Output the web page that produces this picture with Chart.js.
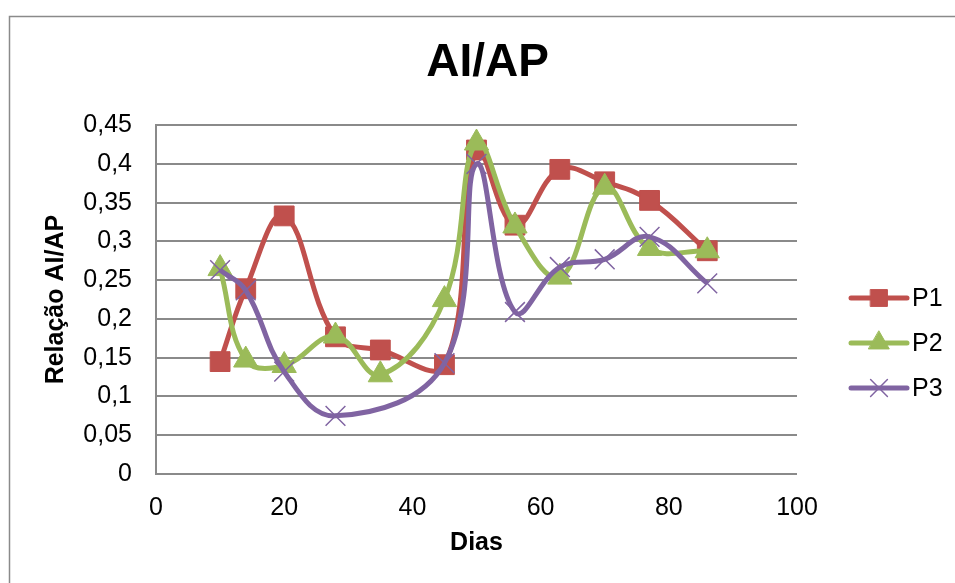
<!DOCTYPE html>
<html>
<head>
<meta charset="utf-8">
<script src="https://cdn.jsdelivr.net/npm/chart.js@4"></script>
<style>
  html, body { margin: 0; padding: 0; background: #fff; }
  #wrap { width: 955px; height: 583px; }
</style>
</head>
<body>
<div id="wrap"><canvas id="ai-ap-chart"></canvas></div>
<script>
// values
const days = [10, 14, 20, 28, 35, 45, 50, 56, 63, 70, 77, 86]
const p1 = [0.145, 0.239, 0.333, 0.177, 0.160, 0.141, 0.418, 0.321, 0.393, 0.377, 0.353, 0.288]
const p2 = [0.265, 0.147, 0.140, 0.178, 0.128, 0.225, 0.427, 0.320, 0.254, 0.370, 0.291, 0.288]
const p3Days = [10, 14, 20, 28, 45, 50, 56, 63, 70, 77, 86]
const p3 = [0.263, 0.237, 0.132, 0.075, 0.143, 0.400, 0.209, 0.267, 0.277, 0.306, 0.246]

const xTicks = [0, 20, 40, 60, 80, 100]
const yTicks = [0, 0.05, 0.1, 0.15, 0.2, 0.25, 0.3, 0.35, 0.4, 0.45]

const FONT = "'Liberation Sans', Arial, sans-serif"
const GRID = '#8a8a8a'

function toPoints(xs, ys) {
    return ys.map((y, i) => ({ x: xs[i], y: y }))
}

// outer frame of the chart
const framePlugin = {
    id: 'frame',
    beforeDraw(chart) {
        const ctx = chart.ctx
        ctx.save()
        ctx.strokeStyle = GRID
        ctx.lineWidth = 1.5
        ctx.strokeRect(9.5, 16.5, 2000, 2000)
        ctx.restore()
    }
}

// excel-like legend: line with the marker on it
const legendPlugin = {
    id: 'sideLegend',
    afterDraw(chart) {
        const ctx = chart.ctx
        const area = chart.chartArea
        const x0 = area.right + 54
        const x1 = area.right + 110
        chart.data.datasets.forEach((ds, i) => {
            const y = 298 + i * 45
            ctx.save()
            ctx.strokeStyle = ds.borderColor
            ctx.lineWidth = 5
            ctx.lineCap = 'round'
            ctx.beginPath()
            ctx.moveTo(x0, y)
            ctx.lineTo(x1, y)
            ctx.stroke()
            ctx.fillStyle = ds.pointBackgroundColor
            ctx.strokeStyle = ds.pointBorderColor
            ctx.lineWidth = ds.pointBorderWidth
            Chart.helpers.drawPoint(ctx, {
                pointStyle: ds.pointStyle,
                radius: ds.pointRadius * 0.85,
                rotation: 0,
                borderWidth: ds.pointBorderWidth
            }, (x0 + x1) / 2, y)
            ctx.fillStyle = '#000'
            ctx.font = '25px ' + FONT
            ctx.textBaseline = 'middle'
            ctx.textAlign = 'left'
            ctx.fillText(ds.label, x1 + 5, y + 1)
            ctx.restore()
        })
    }
}

document.addEventListener('DOMContentLoaded', function () {
    const ctx = document.getElementById('ai-ap-chart').getContext('2d')
    const chart = new Chart(ctx, {
        type: 'line',
        data: {
            datasets: [{
                label: 'P1',
                data: toPoints(days, p1),
                borderColor: '#c0504d',
                pointBackgroundColor: '#c0504d',
                pointBorderColor: '#c0504d',
                pointStyle: 'rect',
                pointRadius: 14,
                pointBorderWidth: 1,
                borderWidth: 5,
                order: 3
            }, {
                label: 'P2',
                data: toPoints(days, p2),
                borderColor: '#9bbb59',
                pointBackgroundColor: '#9bbb59',
                pointBorderColor: '#9bbb59',
                pointStyle: 'triangle',
                pointRadius: 14,
                pointBorderWidth: 1,
                borderWidth: 5,
                order: 2
            }, {
                label: 'P3',
                data: toPoints(p3Days, p3),
                borderColor: '#8064a2',
                pointBackgroundColor: '#8064a2',
                pointBorderColor: '#8064a2',
                pointStyle: 'crossRot',
                pointRadius: 14,
                pointBorderWidth: 1.5,
                borderWidth: 5,
                order: 1
            }]
        },
        options: {
            responsive: true,
            maintainAspectRatio: false,
            animation: false,
            layout: { padding: { left: 20, right: 0, top: 0, bottom: 0 } },
            elements: {
                line: { tension: 0.4, fill: false, capBezierPoints: true },
                point: { hoverRadius: 14 }
            },
            plugins: {
                legend: { display: false },
                tooltip: { enabled: false },
                title: {
                    display: true,
                    text: 'AI/AP',
                    color: '#000',
                    font: { family: FONT, size: 46, weight: 'bold', lineHeight: 1.2 },
                    padding: { top: 36, bottom: 34 }
                }
            },
            scales: {
                x: {
                    type: 'linear',
                    min: 0,
                    max: 100,
                    afterBuildTicks: s => { s.ticks = xTicks.map(v => ({ value: v })) },
                    afterFit: s => { s.height = 109 },
                    grid: { display: false, drawTicks: false },
                    border: { display: false },
                    ticks: {
                        color: '#000',
                        padding: 19,
                        font: { family: FONT, size: 25 },
                        maxRotation: 0
                    },
                    title: {
                        display: true,
                        text: 'Dias',
                        color: '#000',
                        font: { family: FONT, size: 25, weight: 'bold', lineHeight: 1.2 },
                        padding: { top: 0, bottom: 25 }
                    }
                },
                y: {
                    type: 'linear',
                    min: 0,
                    max: 0.45,
                    afterBuildTicks: s => { s.ticks = yTicks.map(v => ({ value: v })) },
                    afterFit: s => { s.width = 136 },
                    grid: { color: GRID, lineWidth: 2, drawTicks: false },
                    border: { display: true, color: GRID, width: 2 },
                    ticks: {
                        color: '#000',
                        padding: 24,
                        font: { family: FONT, size: 25 },
                        callback: v => String(Math.round(v * 100) / 100).replace('.', ',')
                    },
                    title: {
                        display: true,
                        text: 'Relação AI/AP',
                        color: '#000',
                        font: { family: FONT, size: 25, weight: 'bold', lineHeight: 1.2 },
                        padding: { top: 21, bottom: 0 }
                    }
                },
                side: {
                    type: 'linear',
                    position: 'right',
                    display: true,
                    afterFit: s => { s.width = 158 },
                    grid: { display: false, drawTicks: false },
                    border: { display: false },
                    ticks: { display: false }
                }
            }
        },
        plugins: [framePlugin, legendPlugin]
    })
})
</script>
</body>
</html>
